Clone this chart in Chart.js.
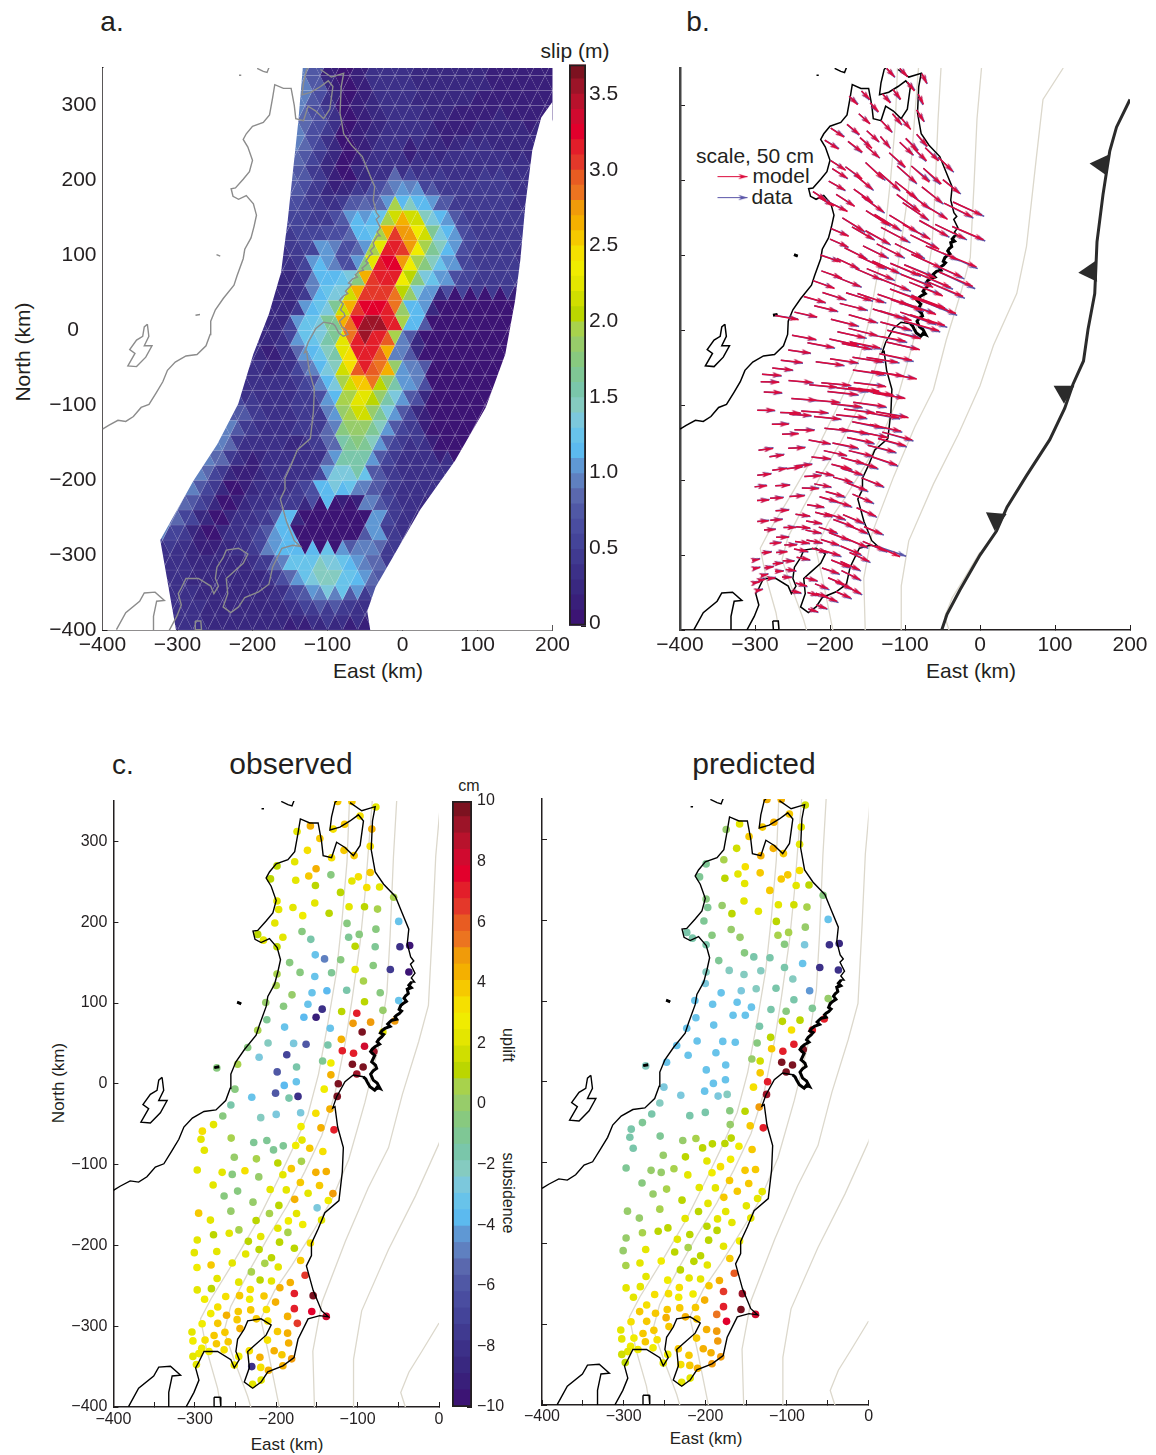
<!DOCTYPE html>
<html>
<head>
<meta charset="utf-8">
<title>Slip, displacement and vertical motion maps</title>
<script src="https://cdn.jsdelivr.net/npm/chart.js@4/dist/chart.umd.min.js"></script>
<style>
  body { margin: 0; background: #fff; width: 1156px; height: 1455px; position: relative; overflow: hidden; font-family: "Liberation Sans", sans-serif; }
  canvas { position: absolute; }
  .lbl { position: absolute; white-space: nowrap; color: #231f20; transform: translate(-50%, -50%); }
</style>
</head>
<body>
<script>
const o = null;

// colour scale, one entry per band from bottom to top of the colorbars
const bandColors = ["#3c1474","#391f7a","#392880","#3c3088","#403a90","#444499","#4a4da0","#5058a5","#5a68ae","#5f80c0","#5f98d4","#5cbaef","#68c3ea","#7cc8dc","#85cbc0","#7ac6aa","#7fc795","#88c97f","#97cc6a","#a8d24c","#bbd600","#d0de00","#e4e600","#f0ec00","#f5e000","#f6c900","#f4b000","#f09b0a","#ec7420","#e85c22","#e4382a","#e31e2a","#e2002c","#d00a2f","#b8122c","#9c1428","#7c1220"];

// coastline, km, null = gap between pieces
const coastX = [-400,-391.8,-379.4,-369,-358.8,-348.5,-338,-328,-319.6,-313.4,-303,-288.7,-274,-262,-256.5,-255.7,-249.5,-239,-224.7,-220.6,-212.4,-210.3,-202,-198,-194.7,-198.8,-208.3,-218.6,-226,-228.5,-222.7,-212.4,-204.1,-200,-206.2,-212.4,-208.3,-200,-185.6,-177.3,-173.2,-170.3,-158.8,-148.5,-144.3,-142.3,-132,-125.8,-115.5,-105.2,-96.9,-92.8,-99,-109.3,-121.7,-134,-132,-127.8,-124.5,o,
 -109.3,-94.9,-78.4,-81.7,-83.3,-78.4,-68,-53.6,-45.4,-37.1,-39,-34.8,-31,-35,-29.5,-34,-30,-33.6,-39,-37.7,-43,-40,-44,-49,-46,-48.8,-54,-52,-58,-63,-60,-66.4,-72,-68,-70.4,-76,-73,-78.7,-84,-79,-82.7,-78,-76.6,-84,-80.8,-76,-72.5,-79,-84.8,-90,-93,-105.3,-115.5,-125.7,-130.6,-127.8,-124.5,-117.5,-118.8,-122.9,-140.2,-148.5,-156.7,-156.7,-162.9,-154.6,-144.3,-136,-146.4,-160.8,-173.2,-178.1,-191.8,-210.3,-218.6,-228.9,-239.2,-233,-235,-226.8,-212.4,-206.2,-218.6,-235,-239.2,-247.4,-249.5,-245.4,-251.5,-255.7,-272,-288.7,-294.9,-299,-294.9,-301,-311.3,o,
 -340.2,-338.2,-344.3,-334,-342.3,-354.6,-366.2,-356.7,-363.7,-354.6,-346.4,-344.3,-340.2,o,
 -381.4,-369,-350.5,-344.3,-329.9,-317.5,-327.8,-332,-332,o,
 -193.8,-185.6,-180.6,-178.1,o,-218,-215,o,-248,-243,o,-276,-270,o,
 -276.3,-268.9,-268,-275.5,-276.3];
const coastY = [-131.8,-126.8,-120.2,-121.7,-115.1,-103,-99,-82.8,-68.7,-53.5,-42.4,-34.3,-32.3,-20.7,-5.6,12.1,27.3,42.4,60.1,72.7,95.5,108.1,123.3,138.4,153.6,168.7,179.8,174.8,178.8,188.9,189.9,201.5,211.6,226.8,244.5,254.6,262.2,272.3,277.3,287.4,310.1,327.8,322.8,322.8,300,282.4,279.8,299,292.5,282.4,295,325.3,332.9,325.3,317.7,314.2,330.3,348,351.6,o,
 348,337.9,343,325.3,289.9,262.2,247,231.8,211.6,191.4,173.5,157,152,148,137,131,126,126,117,111.7,106,102,99.4,92,90,87,83,80,78.7,74,71,68.5,63,61,58,52,49,45.8,40,35,27.2,23,19,12,4.6,1,-5.6,-8,-3.7,6,8.7,10.8,2.5,-16,-30,-28.3,-53.5,-78.8,-109,-144.5,-159.6,-179.8,-197.5,-212.6,-225.3,-255.6,-280.8,-288.4,-286.9,-290.9,-316.2,-338.9,-349,-356.6,-369.2,-376.8,-369.2,-351.5,-331.3,-323.8,-311.1,-298.5,-290.9,-293.4,-303.5,-316.2,-331.3,-341.4,-351.5,-341.4,-331.3,-331.3,-344,-351.5,-366.7,-381.9,-401,o,
 8.1,-8.1,-20.7,-20.7,-35.9,-48.5,-47.5,-30.8,-25.8,-13.1,-8.1,4.5,8.1,o,
 -399.5,-376.8,-361.6,-350.6,-349.5,-360.6,-361.6,-381.9,-401,o,
 349.5,345.5,344,350.5,o,340.4,340.4,o,101,99,o,20,21,o,
 -387.9,-387.9,-399.5,-399.5,-387.9];

// thick jagged stretch of the coast, drawn over the outline on the black maps
const riaX = [-33.6,-37,-34,-39,-37.7,-41,-43,-40,-44,-47,-49,-46,-48.8,-52,-54,-52,-58,-61,-63,-60,-66.4,-70,-72,-68,-70.4,-74,-76,-73,-78.7,-82,-84,-79,-82.7,-78,-76.6,-81,-84,-80.8,-76,-72.5,-76,-79,-84.8,-88,-90,-93,o,-276,-270,o,-248,-243];
const riaY = [126,122,119,117,111.7,109,106,102,99.4,97,92,90,87,85,83,80,78.7,76,74,71,68.5,66,63,61,58,55,52,49,45.8,43,40,35,27.2,23,19,16,12,4.6,1,-5.6,-4,-8,-3.7,2,6,8.7,o,20,21,o,101,99];

// grey contours
const contourX = [-110,-113,-119,-126,-136,-148,-161,-179,-198,-223,-252,-280,-293,-285,-272,-268,o,
 -82,-91,-97,-107,-115,-128,-144,-165,-186,-210,-235,-256,-264,-252,-235,-231,o,
 -52,-56,-60,-64,-74,-91,-111,-132,-153,-181,-202,-219,-210,-196,o,
 2,-4,-8,-13,-25,-45,-62,-87,-115,-144,-155,-153,o,
 111,84,75,62,49,18,0,-29,-62,-95,-105,-105,o,
 0,-21,-37,-47,-41];
const contourY = [350,275,204,138,78,12,-38,-79,-119,-170,-220,-266,-291,-331,-377,-401,o,
 350,234,174,103,52,-13,-64,-109,-150,-190,-235,-276,-306,-341,-387,-401,o,
 350,280,184,113,47,-23,-94,-144,-180,-225,-256,-291,-331,-401,o,
 350,282,194,97,52,-13,-79,-129,-195,-271,-331,-401,o,
 350,308,229,112,49,-20,-74,-139,-205,-281,-341,-401,o,
 -296,-331,-357,-382,-401];

// trench and its teeth
const trenchX = [-51,-44,-27,0,22,36,62,93,113,124,138,144,153,156,164,173,182,200];
const trenchY = [-400,-379,-347,-300,-268,-236,-194,-146,-104,-72,-41,1,49,118,181,239,271,308];
const toothX = [162,147,112,21];
const toothY = [221,78,-82,-252];
const toothAngle = [-85,-95,180,185];

// slip edge outline, km
const meshLeftX = [-400,-133,-139,-146,-153,-162,-178,-199,-219,-247,-279,-323,-302,-400];
const meshLeftY = [350,350,278,213,147,77,22,-32,-98,-152,-201,-280,-400,-400];
const meshRightX = [200,200,185,173,164,157,150,137,111,70,24,-36,-47,-43,200];
const meshRightY = [350,305,284,240,169,93,39,-32,-103,-174,-239,-343,-375,-400,-400];

// slip read at lattice nodes, in 0.1 m. Rows y = 360 to -420 every 20 km, columns x = -340 to 200 every 20 km
const slipRows = [
 [o,o,o,o,o,o,o,o,o,10,10,8,2,1,2,4,4,4,3,3,3,3,3,2,2,2,2,2],
 [o,o,o,o,o,o,o,o,o,10,10,8,2,1,2,4,4,4,3,3,3,3,3,2,2,2,2,2],
 [o,o,o,o,o,o,o,o,o,10,10,8,3,1,2,4,4,4,3,3,3,3,3,2,2,2,2,2],
 [o,o,o,o,o,o,o,o,o,10,10,7,4,1,2,3,4,4,3,3,3,2,2,2,2,2,2,2],
 [o,o,o,o,o,o,o,o,o,10,9,7,5,1,2,3,4,4,4,3,2,2,2,3,3,2,2,2],
 [o,o,o,o,o,o,o,o,o,10,10,7,4,1,2,3,4,4,4,2,2,3,3,3,3,3,3],
 [o,o,o,o,o,o,o,o,o,10,9,6,3,1,2,4,4,2,2,3,3,4,4,4,3,3,3],
 [o,o,o,o,o,o,o,o,o,9,8,5,3,1,3,4,4,4,4,4,4,4,4,4,4,4,4],
 [o,o,o,o,o,o,o,o,o,9,8,5,2,1,3,4,9,10,6,5,5,4,5,5,5,4,4],
 [o,o,o,o,o,o,o,o,8,8,7,5,3,5,8,7,11,12,11,8,5,5,5,5,4,4,4],
 [o,o,o,o,o,o,o,o,7,7,6,5,4,8,11,9,20,22,15,12,8,5,5,5,5,4,4],
 [o,o,o,o,o,o,o,o,6,6,6,5,7,12,12,13,27,28,22,14,11,6,5,5,5,5,4],
 [o,o,o,o,o,o,o,o,5,5,5,6,11,7,9,20,32,31,24,17,12,7,5,5,5,4,4],
 [o,o,o,o,o,o,o,o,4,4,6,11,10,6,11,23,33,28,20,15,11,6,5,5,5,4,4],
 [o,o,o,o,o,o,o,o,4,3,5,12,12,7,18,32,33,24,18,13,11,6,5,5,5,4,4],
 [o,o,o,o,o,o,o,4,3,3,4,10,13,14,27,31,32,21,14,11,7,6,5,5,5,4,4],
 [o,o,o,o,o,o,o,4,3,3,5,12,14,22,31,33,29,19,11,3,0,0,0,0,1,2,3],
 [o,o,o,o,o,o,o,4,3,3,11,13,17,27,33,36,32,12,13,0,0,0,0,0,0,1,2],
 [o,o,o,o,o,o,o,4,3,6,13,14,17,29,36,37,32,20,8,0,0,0,0,0,0,0,1],
 [o,o,o,o,o,o,4,3,2,4,11,13,16,23,32,30,10,3,0,0,0,0,0,0,0,0],
 [o,o,o,o,o,o,4,4,2,4,9,12,15,25,32,33,27,10,8,0,0,0,0,0,0,0],
 [o,o,o,o,o,4,4,4,3,4,6,10,14,22,30,29,19,11,10,0,0,0,0,0,0,0],
 [o,o,o,o,o,4,4,4,4,4,5,7,12,20,26,21,16,11,7,0,0,0,0,0,0],
 [o,o,o,o,5,6,8,5,4,4,5,5,11,20,23,19,14,8,3,0,0,0,0,0,0],
 [o,o,o,o,8,10,8,5,4,4,5,5,10,19,22,17,11,6,2,0,0,0,0,0],
 [o,o,o,8,10,10,5,4,4,3,5,5,9,18,19,15,8,5,5,0,0,0,0,0],
 [o,o,o,10,11,9,4,3,4,4,2,4,9,16,17,11,6,4,4,2,0,0,0],
 [o,o,10,10,9,5,2,2,4,4,4,4,11,16,16,8,5,4,4,4,4,3],
 [o,o,10,10,6,3,1,3,4,4,2,6,15,14,13,8,5,4,4,4,4],
 [10,10,10,8,5,1,2,4,4,5,7,12,12,2,10,8,5,4,4,3,3],
 [9,9,9,6,3,1,3,4,5,12,3,0,0,0,0,11,6,4,3,3],
 [10,10,6,3,1,4,4,5,8,12,0,0,0,0,1,11,5,4,3],
 [6,6,5,2,1,3,4,6,11,12,1,0,0,0,8,12,5,4,3],
 [4,4,4,3,2,3,4,5,10,13,12,13,14,11,10,9,5,4],
 [4,4,4,2,3,3,3,3,5,9,13,15,15,13,12,9,3,3],
 [4,4,4,3,3,3,3,3,4,7,11,14,15,13,11,8,3],
 [4,4,4,4,3,3,3,3,3,4,6,8,10,8,5,4,3],
 [4,4,4,4,3,3,3,3,3,3,4,5,5,4,4,3,3],
 [4,4,4,4,3,3,3,3,3,2,1,2,3,2,2,2,2],
 [4,4,4,4,3,3,3,3,3,2,1,2,3,2,2,2,2]
];
const slipTopY = 360, slipStepY = 20, slipLeftX = -340, slipStepX = 20;

// GPS stations, km
const stationX = [-124.5,-107,-77.5,-97,-116,-130,-158,-174.4,-82.5,-146.4,
 -84.5,-161.6,-116.7,-104.3,-132,-177.3,-199,-151,-160,-132.8,
 -84.5,-99,-107,-176,-207,-151.8,-88.7,-73,-121,-55.7,
 -199,-152.6,-197,-179.4,-110.5,-91.5,-75.5,-167.4,-135,-49.5,
 -201.7,-113,-77.5,-168.3,-98,-111,-222.7,-191.8,-157.5,-215.7,
 -103,-78.4,-48,-36,-199,-152,-140.6,-120.8,-183.5,-80.8,
 -59.8,-37,-103,-170.7,-132,-152.6,-199,-92.8,-200,-113.4,
 -180.6,-156,-137.7,-72.2,-49.5,-212.8,-91.5,-191,-161,-143.5,
 -119.6,-68.9,-101,-151,-166,-211.5,-105.6,-84,-54.4,-222.7,
 -189.7,-133.6,-94.4,-68.9,-120,-210,-178.6,-163.3,-136.5,-91.5,
 -235,-118.8,-105,-80,-187,-221,-143,-132.8,-106.4,-93.2,
 -247.4,-273,-175,-198.8,-132.8,-101,-175.3,-190.1,-123.7,-141,
 -250.7,-200.8,-173.2,-230,-184.3,-125,-255.7,-134,-170,-200,
 -151.3,-265.6,-219,-277,-169.5,-145,-129,-290.7,-255.3,-292.4,
 -227.6,-211.5,-191.3,-168.3,-176,-203.3,-158.8,-142.7,-288.3,-251.5,
 -224.3,-198,-169,-181.4,-297,-266.4,-238.4,-254,-221.4,-191.8,
 -151.3,-138.5,-170.3,-146.8,-277.5,-207.4,-187.6,-247.4,-160.8,-130.3,
 -264,-177.3,-136,-228.5,-196.7,-149.7,-255.7,-208.3,-175,-295.3,
 -280.8,-224.7,-185,-144.3,-167.4,-198,-245.8,-257.7,-277,-185.6,
 -219,-297,-234.2,-195.9,-158,-177.7,-221,-300.6,-273,-237.5,
 -205.8,-170,-214,-280,-254,-297.3,-197.5,-230.5,-164.5,-272.6,
 -219.8,-205.8,-246,-182.7,-279.6,-195.5,-231.8,-297,-177.7,-154.6,
 -245,-262,-215,-288,-232.6,-200.8,-271.8,-177.7,-231.3,-212,
 -280.4,-246.6,-156.3,-261,-186,-248,-224.3,-271.8,-291,-210.3,
 -174,-244.5,-198.4,-186,-303.5,-263,-276.3,-302.3,-287.4,-210.7,
 -184.7,-259,-273.4,-291.5,-233,-202.5,-264,-282.5,-295,-193,
 -302.3,-246,-220,-181,-191.8,-251.5,-298,-230,-219,-209.5,-229,-218.5,-138.5];
const stationY = [349.5,349.5,342.5,331.4,321.2,315.2,319.2,312.2,315.2,303.6,
 294,288.9,288.9,282.4,279.8,274.8,269.7,266.2,257.1,258.6,
 261.6,256.1,251,252,253.6,245.5,243,243.5,236.9,230.8,
 226.3,223.8,215.7,218.2,219.2,219.2,216.2,208.1,211.1,201,
 199,198.5,191.4,188.4,184.9,181.3,184.9,181.3,178.8,177.8,
 170.2,169.7,169.7,171.2,169.7,159.6,154.6,153.6,150,146.5,
 141.4,138.4,141.4,137.9,137.4,132.8,135.9,127.3,121.7,115.7,
 110.1,112.6,115.2,112.6,103,100.5,101.5,96,98.5,92.4,
 89.4,90.9,87.4,82.3,82.3,79.3,74.8,76.3,77.8,66.2,
 70.2,68.7,64.2,64.2,55,50.5,50,49,48,46.5,
 45,40.9,37.9,39.9,35.9,32.8,28.3,25.8,24.2,20.7,
 24.2,19.7,20.7,14.7,11.1,12.1,2.5,-2,0,-6.6,
 -6.6,-11.6,-15.6,-16.7,-17.7,-15.6,-26.3,-31.3,-35.9,-37.9,
 -36.4,-39.9,-41.9,-50.5,-53,-54.5,-57,-58.6,-67.2,-68.7,
 -72.7,-70.2,-76.8,-69.7,-76.3,-81.8,-79.8,-83.8,-82.3,-90.9,
 -92.9,-98,-96,-105,-106.6,-109.6,-107.6,-112.1,-115.2,-112.6,
 -109.6,-108.6,-122.2,-125.8,-125.3,-130.8,-131.3,-132.8,-135.4,-135.9,
 -138.9,-143,-144.5,-146.5,-150.5,-153.5,-157.6,-160.6,-160.6,-160.1,
 -168.7,-169.2,-169.7,-168.7,-174.2,-178.8,-180.8,-184.9,-186.9,-183.9,
 -188.9,-193.4,-195,-196,-197,-203.5,-205,-209,-207.6,-210.6,
 -215.2,-218.7,-222.2,-224.3,-221.7,-227.3,-226.8,-232.8,-236.9,-240.9,
 -242.9,-244,-245.5,-246,-253.5,-252.5,-254.6,-255.1,-259.6,-262.2,
 -262.2,-263.2,-262.7,-266.7,-266.7,-270.2,-276.3,-278.3,-279.8,-279.3,
 -284.4,-281.8,-281.8,-286.4,-287.9,-291.9,-290.9,-296.5,-297,-293.5,
 -296.5,-303,-306.6,-308.6,-307.1,-307.6,-311.6,-318.2,-317.2,-317.2,
 -320.7,-319.2,-321.7,-327.3,-330.3,-330.3,-329.3,-331.3,-333.9,-335.4,
 -337.4,-337.4,-338.4,-340.4,-349,-348,-347.5,-350,-351,-354.6,-371.8,-366.7,-287.9];

// vertical motion, cm
const observedCm = [4,4,2.2,3.3,3.7,3.3,4.2,2.3,4.2,3.7,
 3.2,3.2,3.7,3.7,3.2,2.0,1.2,4.3,3.7,-0.5,
 3.9,3.2,2.4,2.0,1.0,1.2,3.2,2.2,0.9,0.3,
 2.2,2.0,2.2,2.3,2.4,1.0,0.5,2.5,1.0,-3.5,
 2.3,-0.5,-0.5,-0.5,-0.5,-1,1.0,2.0,-1.5,2.0,
 1.0,-1,-8,-10,1.0,-3.5,-5,-0.5,-0.5,-0.8,
 -7.5,-10,2.3,-0.7,-1.3,-3,0.7,0.5,0.8,-1.7,
 -0.2,-3,-4,-0.8,-3,0.2,1,-0.3,-3.5,-8,
 1.3,0,7,-9,-3.8,-1,5,5,5,0.5,
 -3,-3.3,9.5,2.4,4.3,-2,-2.5,-6,-1.5,8,
 -0.5,6.8,7,9,-7,-2.5,-1,2.5,9.5,9.5,
 0.5,-0.3,-1.7,-6,4.3,9,-3.3,-4,10,2.6,
 -0.8,-6,-8,-3,-1.8,10,-1.5,4.3,-2.8,-2.8,
 3.1,-0.5,-2,2.3,2.5,4.3,7,3.2,0.8,2.3,
 -1,-1,-1,2.3,2.5,-1.2,3.7,3.2,2.3,-0.2,
 0.5,1,0.7,4,2.3,2.3,3.5,-0.7,0,2.3,
 4.1,4.1,3.7,3.9,2.3,2.4,2.4,-0.3,2.4,5,
 -0.3,4.1,2.5,0,1,-2.8,0,0.8,2.3,3.9,
 2.4,0.9,2.5,2.3,2.6,2.4,0.3,2.0,1,0.5,
 2.0,2.4,1.2,1.3,3.5,1.2,1.3,2.2,2.2,2.0,
 1,3.8,0.8,3.7,2.3,2.5,2.3,0.4,6.5,2.2,
 1,2.3,2.4,4.5,1.3,4.1,3.1,2.4,7,9.5,
 3.7,3.1,3.7,2.6,2.6,4.1,3.2,7,3.7,3.3,
 2.5,3.9,7.3,4.5,4.5,3.9,4,3.7,2.5,3.1,
 6.3,4.1,4,4.5,2.4,3.9,3.9,2.5,3.1,3.5,
 4.4,3.6,3.9,2.6,3.1,4.2,3.1,2.6,2.5,4,
 2.4,2.6,4.5,5,4.3,2.5,2.3,-8,3.3,4.4,2.4,2.4,8];
const predictedCm = [4.2,4.2,1.5,4,4.2,4,2.4,0,2.4,3.7,
 2.4,1.7,4.2,4,4.2,0.5,-1,3.1,2.0,3.9,
 3.1,3.7,3.9,1,-1,2.4,2.4,1.3,3.7,-0.5,
 -0.5,2.3,-1,0,2.4,1.5,0.8,1,2.3,-3,
 -1,1,0,0.2,0.5,0.5,-1.5,-0.5,0,-1.5,
 -0.5,-2.5,-8,-8.5,-1.5,-0.8,-1.5,-1.7,-1.2,-3,
 -8,-8,-1.5,-2,-2,-2,-2,-2,-2.5,-1.7,
 -3,-2.8,-2.2,-4.2,-0.2,-3,-1.5,-3,-3,-3,
 -1.5,-1,-0.3,-3,-3.5,-3.5,1,1.2,7,-3,
 -3.5,-1.5,3.2,7,1,-3.5,-3.5,-3.2,-0.8,7,
 -3.2,3.7,7,9.5,-3.5,-3.5,0,1.5,9.5,9.5,
 -3.3,-2,-3.2,-3.5,4,9.5,-3,-3,7,3.1,
 -2.5,-3,-2,-2.5,-2.5,9,-2,5,-0.8,-1.5,
 1,-1.5,-1.5,-1.3,0,3.9,7,-1.5,-1,-1.6,
 0,0.5,1,1.1,1.2,1.3,2.5,3.7,-1.5,0,
 1,2.3,2.5,3.1,-1.3,-0.2,0.6,0,2.2,2.5,
 3.7,4,3.8,3.8,-0.3,2.3,2.4,0.8,3.8,2.4,
 0,3.8,2.2,1.3,2.3,2.4,0.8,1,2.2,0,
 -0.2,2,2.1,2.2,2.4,1.3,0.9,1,0.7,1,
 0.9,-0.2,2,1.3,2.5,2.4,0.7,-0.2,2.2,1.2,
 0.9,3.9,1,2.4,2.5,0.8,2,1.1,6,2.4,
 2.3,2.4,2.5,4.5,2.4,3.8,3.1,2.3,6.5,9,
 3.5,3.5,2.5,2.3,2.6,4.2,3.5,7,3.7,3.7,
 3.8,3.7,9.5,3.7,5.3,4.1,4.1,3.7,3.3,3.7,
 7.3,3.8,4.2,5,2.3,3.9,3.7,2.1,2.5,4,
 5,3.5,3.7,2.5,4,4.2,2.6,2.5,2.3,4.4,
 1.5,2.6,4,5,5,2.4,1.2,3.3,4,4.3,2.3,2.4,8];

// horizontal displacement, cm
const modelE = [13,13,8,12,13,13,14,14,9,14,
 12,19,15,15,18,21,22,20,20,16,
 18,20,22,24,23,22,22,22,27,24,
 25,30,25,28,32,30,30,30,35,28,
 27,36,34,31,38,39,22,31,36,26,
 42,44,47,48,28,38,42,46,36,47,
 50,52,46,36,45,40,30,48,30,46,
 36,40,44,53,56,34,50,36,42,44,
 48,56,52,44,42,34,54,56,56,36,
 38,48,56,58,50,38,42,44,50,56,
 36,52,58,60,44,38,50,52,58,58,
 38,39,46,44,50,58,48,46,56,52,
 40,46,50,44,48,56,37,54,50,46,
 52,36,46,34,52,54,56,32,40,31,
 46,48,50,54,52,50,54,54,30,42,
 46,50,54,52,29,34,44,36,44,50,
 54,54,50,52,28,42,48,33,48,50,
 28,44,46,36,42,46,28,38,40,24,
 24,32,38,42,38,33,27,26,24,36,
 30,23,28,32,36,34,28,21,24,28,
 31,33,30,22,25,20,32,28,32,22,
 28,32,24,34,20,34,26,19,34,30,
 23,21,30,19,26,33,21,34,26,30,
 19,24,38,21,34,23,26,19,16,30,
 33,22,31,32,12,19,17,11,15,28,
 31,17,14,11,20,27,16,12,11,28,
 10,19,22,28,24,16,10,19,20,24,16,18,40];
const modelN = [-14,-14,-16,-15,-16,-15,-14,-14,-17,-15,
 -19,-17,-18,-18,-19,-17,-15,-18,-18,-19,
 -20,-21,-21,-18,-15,-19,-21,-22,-24,-23,
 -16,-28,-16,-20,-28,-27,-26,-25,-30,-23,
 -15,-28,-27,-22,-28,-29,-14,-20,-26,-15,
 -28,-27,-23,-22,-14,-24,-26,-28,-22,-26,
 -24,-22,-25,-21,-24,-22,-13,-24,-13,-23,
 -18,-20,-22,-23,-23,-12,-23,-17,-20,-20,
 -20,-25,-22,-18,-18,-12,-22,-24,-24,-13,
 -15,-19,-23,-24,-19,-12,-13,-15,-17,-21,
 -10,-18,-21,-22,-11,-9,-15,-16,-19,-18,
 -8,-7,-13,-11,-13,-16,-12,-10,-14,-10,
 -7,-10,-10,-8,-9,-13,-5,-11,-8,-7,
 -8,-4,-6,-3,-7,-8,-10,-2,-3,-1,
 -4,-4,-5,-7,-6,-5,-8,-9,-1,-3,
 -4,-5,-7,-7,0,-1,-3,-2,-4,-5,
 -9,-10,-9,-11,0,-4,-8,-1,-10,-13,
 1,-9,-12,-6,-8,-11,1,-8,-9,3,
 3,-3,-10,-14,-12,-8,2,3,3,-11,
 -6,2,1,-8,-14,-13,-5,2,1,-1,
 -8,-14,-8,1,1,1,-10,-4,-14,1,
 -7,-10,-3,-14,1,-12,-4,1,-14,-12,
 -2,0,-9,1,-5,-12,0,-14,-5,-9,
 1,-3,-16,0,-14,-4,-7,1,1,-9,
 -15,-4,-12,-14,2,-1,1,2,2,-9,
 -15,-2,0,2,-5,-11,-1,1,2,-12,
 2,-5,-8,-14,-10,-3,2,-5,-6,-9,-5,-6,-18];
const dataE = [14,12,9,13,12,14,13,15,8,13,
 13,18,16,14,19,20,23,21,19,17,
 17,21,23,23,24,23,21,23,26,26,
 24,33,26,27,33,31,28,32,36,30,
 28,38,36,32,41,37,23,30,38,25,
 44,42,49,52,27,41,45,49,38,50,
 53,55,44,38,49,42,29,46,31,50,
 38,43,47,56,58,33,53,38,46,48,
 51,60,50,47,44,35,52,60,60,35,
 40,52,54,61,48,40,45,48,52,60,
 37,55,56,62,47,40,54,50,60,62,
 37,38,49,47,53,60,50,49,54,55,
 41,49,53,46,51,54,38,57,53,48,
 55,37,48,35,55,56,54,33,42,30,
 48,50,53,52,54,52,56,52,31,44,
 48,52,56,50,30,35,46,37,46,52,
 56,52,52,54,29,44,50,34,46,52,
 27,46,48,37,44,48,29,39,42,25,
 25,33,40,44,40,35,28,27,25,38,
 31,24,29,34,38,36,29,20,25,29,
 33,36,31,23,26,21,34,29,34,23,
 29,34,25,36,21,36,27,20,37,33,
 24,22,32,20,27,35,22,36,27,32,
 20,25,41,22,36,24,27,18,17,32,
 35,23,33,34,13,20,18,12,16,30,
 33,18,15,12,21,29,17,13,12,30,
 11,20,24,30,26,17,11,20,21,26,17,19,50];
const dataN = [-15,-13,-17,-14,-17,-14,-15,-13,-18,-16,
 -20,-16,-19,-17,-20,-18,-14,-19,-17,-20,
 -21,-20,-22,-19,-14,-20,-22,-21,-25,-25,
 -15,-30,-17,-21,-30,-25,-27,-27,-32,-24,
 -16,-30,-29,-23,-30,-28,-15,-19,-28,-14,
 -30,-25,-25,-24,-13,-26,-28,-30,-24,-28,
 -26,-24,-23,-22,-26,-24,-12,-22,-14,-25,
 -19,-21,-24,-25,-26,-11,-25,-18,-22,-22,
 -22,-28,-20,-20,-19,-13,-20,-27,-28,-12,
 -16,-21,-21,-27,-17,-13,-14,-16,-18,-24,
 -11,-20,-19,-25,-12,-10,-17,-15,-21,-21,
 -9,-6,-14,-12,-15,-18,-13,-11,-12,-12,
 -8,-11,-12,-9,-10,-12,-6,-13,-9,-8,
 -9,-5,-7,-4,-9,-9,-9,-3,-4,0,
 -5,-5,-7,-6,-8,-6,-10,-8,-2,-4,
 -5,-7,-9,-6,-1,-2,-4,-3,-5,-7,
 -11,-9,-11,-13,1,-5,-10,0,-9,-15,
 2,-11,-14,-7,-10,-13,2,-9,-11,4,
 4,-4,-12,-16,-14,-10,3,4,4,-13,
 -7,3,2,-10,-16,-15,-6,3,2,0,
 -10,-16,-10,2,2,2,-12,-5,-16,2,
 -8,-12,-4,-16,2,-14,-5,2,-16,-14,
 -3,1,-11,2,-6,-14,1,-16,-6,-11,
 2,-4,-18,1,-16,-5,-8,2,2,-11,
 -17,-5,-14,-16,3,0,2,3,3,-11,
 -17,-3,1,3,-6,-13,0,2,3,-14,
 3,-6,-10,-16,-12,-4,3,-6,-7,-11,-6,-7,-17];

// scale arrows of the legend
const scaleX = [-350];
const scaleModelY = [205];
const scaleDataY = [177];
const scaleLengthCm = [50];

const kmPerCm = 0.8;
const slipMax = 3.715;
const slipTicks = 0.5;
const cmMin = -10, cmMax = 10;

const textColor = "#231f20";
const bodyFont = "Liberation Sans";

const labels = [
  ["a.", 112, 22, 28], ["b.", 698, 22, 28], ["c.", 123, 765, 28],
  ["observed", 291, 764, 30], ["predicted", 754, 764, 30],
  ["slip (m)", 575, 51, 21], ["East (km)", 378, 671, 21], ["East (km)", 971, 671, 21],
  ["North (km)", 23, 352, 21, -90],
  ["scale, 50 cm", 755, 156, 21], ["model", 781, 176, 21], ["data", 772, 197, 21],
  ["East (km)", 287, 1445, 17], ["East (km)", 706, 1439, 17], ["North (km)", 59, 1083, 17, -90],
  ["cm", 469, 786, 16], ["uplift", 508, 1045, 16, 90], ["subsidence", 508, 1193, 16, 90]
];

labels.forEach(([text, x, y, size, rot]) => {
  const d = document.createElement("div");
  d.className = "lbl";
  d.textContent = text;
  d.style.left = x + "px";
  d.style.top = y + "px";
  d.style.fontSize = size + "px";
  if (rot) d.style.transform = "translate(-50%,-50%) rotate(" + rot + "deg)";
  document.body.appendChild(d);
});

function pts(xs, ys) {
  return xs.map((x, i) => ({ x: x, y: ys[i] }));
}

function minus(v) {
  return String(v).replace("-", "\u2212");
}

function bandColor(fraction) {
  const i = Math.min(bandColors.length - 1, Math.max(0, Math.floor(fraction * bandColors.length)));
  return bandColors[i];
}

function lineSet(xs, ys, color, width, order) {
  return { data: pts(xs, ys), showLine: true, borderColor: color, borderWidth: width, pointRadius: 0, order: order };
}

function arrowHead(color) {
  const c = document.createElement("canvas");
  c.width = 7; c.height = 22;
  const g = c.getContext("2d");
  g.fillStyle = color;
  g.beginPath();
  g.moveTo(3.5, 11); g.lineTo(6.2, 20); g.lineTo(3.5, 17.5); g.lineTo(0.8, 20);
  g.closePath();
  g.fill();
  return c;
}

// shaft, tip, gap for each station
function arrowSet(xs, ys, es, ns, color, width, order) {
  const data = [], radius = [], rotation = [];
  xs.forEach((x, i) => {
    data.push({ x: x, y: ys[i] }, { x: x + es[i] * kmPerCm, y: ys[i] + ns[i] * kmPerCm }, { x: null, y: null });
    const angle = Math.atan2(es[i], ns[i]) * 180 / Math.PI;
    radius.push(0, 4, 0);
    rotation.push(0, angle, 0);
  });
  return { data: data, showLine: true, borderColor: color, borderWidth: width, pointStyle: arrowHead(color),
    pointRadius: radius, pointRotation: rotation, order: order };
}

function slipTriangles() {
  const sets = [];
  const node = (r, c) => {
    const v = slipRows[r] ? slipRows[r][c] : undefined;
    if (v === null || v === undefined) return null;
    return { x: slipLeftX + c * slipStepX + (r % 2 ? slipStepX / 2 : 0), y: slipTopY - r * slipStepY, v: v };
  };
  const addTri = (a, b, c) => {
    if (!a || !b || !c) return;
    // the middle of the three nodes keeps patch edges sharp
    const mid = [a.v, b.v, c.v].sort((p, q) => p - q)[1] / 10;
    sets.push({ data: [a, b, c].map((p) => ({ x: p.x, y: p.y })), showLine: true, fill: "shape",
      backgroundColor: bandColor(mid / slipMax), borderColor: "rgba(255,255,255,0.14)", borderWidth: 0.6,
      pointRadius: 0, order: 10 });
  };
  for (let r = 0; r < slipRows.length - 1; r++) {
    for (let c = 0; c < 28; c++) {
      if (r % 2 === 0) {
        addTri(node(r, c), node(r, c + 1), node(r + 1, c));
        addTri(node(r, c + 1), node(r + 1, c), node(r + 1, c + 1));
      } else {
        addTri(node(r, c), node(r, c + 1), node(r + 1, c + 1));
        addTri(node(r, c), node(r + 1, c), node(r + 1, c + 1));
      }
    }
  }
  return sets;
}

function noPadding(s) {
  s.paddingTop = s.paddingBottom = s.paddingLeft = s.paddingRight = 0;
}

function axis(min, max, step, size, pad, fitKey, fitValue, callback, borderWidth, borderColor) {
  return {
    type: "linear", min: min, max: max,
    afterFit: (s) => { s[fitKey] = fitValue; noPadding(s); },
    border: { color: borderColor || "#231f20", width: borderWidth || 1.5 },
    grid: { drawOnChartArea: false, tickLength: -5, tickColor: "#231f20", tickWidth: 1 },
    ticks: { stepSize: step, includeBounds: false, autoSkip: false, maxRotation: 0, minRotation: 0, padding: pad,
      font: { family: bodyFont, size: size }, color: textColor, callback: callback }
  };
}

function makeCanvas(left, top, width, height) {
  const c = document.createElement("canvas");
  c.width = width; c.height = height;
  c.style.left = left + "px"; c.style.top = top + "px";
  c.style.width = width + "px"; c.style.height = height + "px";
  document.body.appendChild(c);
  return c;
}

function mapPanel(left, top, width, height, padTop, padRight, datasets, x, y) {
  new Chart(makeCanvas(left, top, width, height), {
    type: "scatter",
    data: { datasets: datasets },
    options: {
      animation: false, responsive: false, events: [], devicePixelRatio: 1,
      layout: { autoPadding: false, padding: { top: padTop, right: padRight, left: 0, bottom: 0 } },
      plugins: { legend: { display: false }, tooltip: { enabled: false } },
      scales: { x: x, y: y }
    }
  });
}

function colorbar(left, top, width, height, padTop, padBottom, min, max, step, size, pad, offset, plotWidth, callback) {
  const n = bandColors.length;
  const span = (max - min) / n;
  const bands = bandColors.map((color, i) => ({
    data: [[min + i * span, min + (i + 1) * span + span * 0.05]],
    backgroundColor: color, borderWidth: 0, barPercentage: 1, categoryPercentage: 1, order: 5
  }));
  bands.push({ data: [[min, max]], backgroundColor: "rgba(0,0,0,0)", borderColor: "#231f20", borderWidth: 1.5,
    borderSkipped: false, barPercentage: 1, categoryPercentage: 1, order: 1 });
  new Chart(makeCanvas(left, top, width, height), {
    type: "bar",
    data: { labels: ["band"], datasets: bands },
    options: {
      animation: false, responsive: false, events: [], devicePixelRatio: 1,
      layout: { autoPadding: false, padding: { top: padTop, bottom: padBottom, left: 1, right: 0 } },
      plugins: { legend: { display: false }, tooltip: { enabled: false } },
      scales: {
        x: { type: "category", stacked: true, display: false },
        y: {
          type: "linear", position: "right", min: min, max: max, stacked: false,
          afterFit: (s) => { s.width = width - plotWidth - 1; noPadding(s); },
          border: { display: false },
          grid: { drawOnChartArea: false, tickLength: -5, tickColor: "#231f20", tickWidth: 1 },
          ticks: { stepSize: step, includeBounds: false, autoSkip: false, padding: pad, labelOffset: offset,
            font: { family: bodyFont, size: size }, color: textColor, callback: callback }
        }
      }
    }
  });
}

// panel a, slip on the fault
const coastGrey = lineSet(coastX, coastY, "#8c8c8c", 1.4, 1);
mapPanel(0, 60, 580, 640, 8, 27.5,
  [coastGrey,
   Object.assign(lineSet(meshLeftX, meshLeftY, "rgba(0,0,0,0)", 0, 2), { fill: "shape", backgroundColor: "#fff" }),
   Object.assign(lineSet(meshRightX, meshRightY, "rgba(0,0,0,0)", 0, 2), { fill: "shape", backgroundColor: "#fff" })
  ].concat(slipTriangles()),
  axis(-400, 200, 100, 21, 8, "height", 70, minus),
  axis(-400, 350, 100, 21, 11, "width", 102.5, (v) => (v === 0 ? "0   " : minus(v))));

colorbar(568, 60, 60, 580, 4.5, 14, 0, slipMax, slipTicks, 21, 8, -2.5, 17,
  (v) => (v === 0 ? "0" : v.toFixed(1)));

// panel b, horizontal displacement
mapPanel(600, 60, 556, 640, 8, 26,
  [arrowSet(stationX, stationY, modelE, modelN, "#dc0a3c", 1.5, 1),
   arrowSet(stationX, stationY, dataE, dataN, "#5a55a8", 1.5, 2),
   arrowSet(scaleX, scaleModelY, scaleLengthCm, [0], "#dc0a3c", 1, 1),
   arrowSet(scaleX, scaleDataY, scaleLengthCm, [0], "#5a55a8", 1, 2),
   lineSet(coastX, coastY, "#000", 1.5, 3),
   lineSet(riaX, riaY, "#000", 3, 3),
   Object.assign(lineSet(toothX, toothY, "#2b2b2b", 0, 4), { showLine: false, pointStyle: "triangle", pointRadius: 12,
     pointRotation: toothAngle, backgroundColor: "#2b2b2b", borderColor: "#2b2b2b" }),
   lineSet(trenchX, trenchY, "#2b2b2b", 3, 4),
   lineSet(contourX, contourY, "#dcd8cc", 1.3, 5)],
  axis(-400, 200, 100, 21, 8, "height", 70, minus),
  axis(-400, 350, 100, 21, 11, "width", 80, () => "", 2.5, "#444"));

// panels c, vertical motion
function stationSet(values) {
  return { data: pts(stationX, stationY), showLine: false, pointRadius: 3.8, pointBorderWidth: 0,
    pointBackgroundColor: values.map((v) => bandColor((v - cmMin) / (cmMax - cmMin))), order: 2 };
}
const hundreds = (v) => (v % 100 === 0 ? minus(v) : "");

mapPanel(20, 793, 445, 660, 8, 26,
  [lineSet(coastX, coastY, "#000", 1.4, 1), lineSet(riaX, riaY, "#000", 3, 1), stationSet(observedCm), lineSet(contourX, contourY, "#dcd8cc", 1.3, 3)],
  axis(-400, 0, 50, 16, 8, "height", 46, hundreds),
  axis(-400, 350, 100, 16, 11, "width", 93.4, minus));

colorbar(451, 793, 60, 640, 8, 26, cmMin, cmMax, 2, 16, 10, 0, 20, (v) => minus(v));

mapPanel(500, 791, 392, 660, 8, 23.4,
  [lineSet(coastX, coastY, "#000", 1.4, 1), lineSet(riaX, riaY, "#000", 3, 1), stationSet(predictedCm), lineSet(contourX, contourY, "#dcd8cc", 1.3, 3)],
  axis(-400, 0, 50, 16, 7, "height", 46, hundreds),
  axis(-400, 350, 100, 16, 11, "width", 42, () => ""));
</script>
</body>
</html>
